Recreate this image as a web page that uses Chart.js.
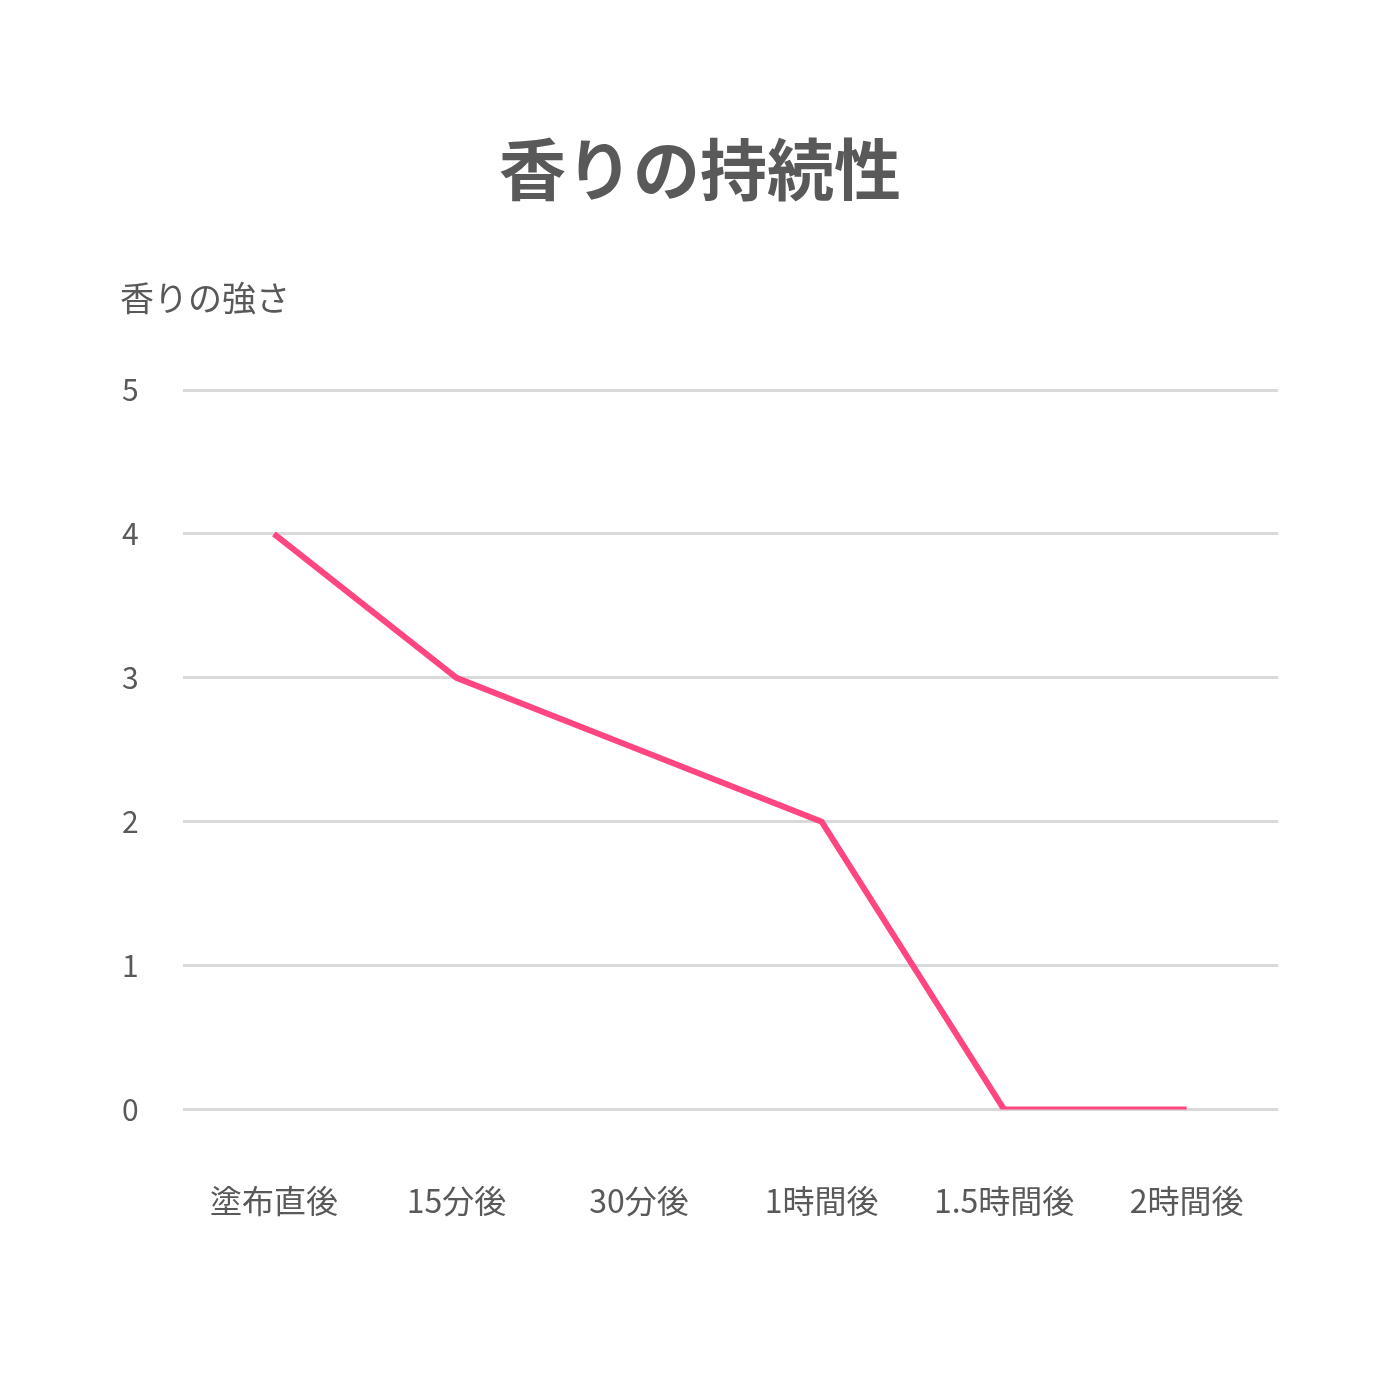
<!DOCTYPE html>
<html>
<head>
<meta charset="utf-8">
<script src="https://cdn.jsdelivr.net/npm/chart.js@4"></script>
<style>
  html, body { margin: 0; padding: 0; background: #fff; }
  #wrap { width: 1400px; height: 1400px; }
</style>
</head>
<body>
<div id="wrap"><canvas id="scentChart"></canvas></div>
<script>
const categories = ['塗布直後', '15分後', '30分後', '1時間後', '1.5時間後', '2時間後'];
const intensity = [4, 3, 2.5, 2, 0, 0];
const yTicks = [0, 1, 2, 3, 4, 5];

const chartTitle = '香りの持続性';
const yAxisTitle = '香りの強さ';
const fontFamily = '"Noto Sans CJK JP", "Noto Sans", sans-serif';
const textColor = '#595959';

// title centred on the page, y-axis title horizontal above the axis
const textPlugin = {
    id: 'headings',
    afterDraw(chart) {
        const ctx = chart.ctx;
        ctx.save();
        ctx.fillStyle = textColor;
        ctx.textBaseline = 'middle';
        ctx.textAlign = 'center';
        ctx.font = 'bold 67px ' + fontFamily;
        ctx.fillText(chartTitle, chart.width / 2, 170);
        ctx.textAlign = 'left';
        ctx.font = '34px ' + fontFamily;
        ctx.fillText(yAxisTitle, 120, 298);
        ctx.restore();
    }
};

const ctx = document.getElementById('scentChart').getContext('2d');
new Chart(ctx, {
    type: 'line',
    data: {
        labels: categories,
        datasets: [{
            data: intensity,
            borderColor: '#FF4680',
            borderWidth: 6,
            pointRadius: 0,
            tension: 0,
            fill: false
        }]
    },
    options: {
        responsive: true,
        maintainAspectRatio: false,
        animation: false,
        layout: {
            padding: { top: 390, left: 78, right: 122, bottom: 108 }
        },
        plugins: {
            legend: { display: false },
            tooltip: { enabled: false },
            title: { display: false }
        },
        scales: {
            x: {
                offset: true,
                grid: { display: false, drawTicks: false },
                border: { display: false },
                afterFit(axis) {
                    axis.paddingLeft = 0;
                    axis.paddingRight = 0;
                },
                ticks: {
                    color: textColor,
                    font: { family: fontFamily, size: 32, lineHeight: 1.2 },
                    padding: 72,
                    maxRotation: 0
                }
            },
            y: {
                min: 0,
                max: 5,
                afterBuildTicks(axis) {
                    axis.ticks = yTicks.map(v => ({ value: v }));
                },
                grid: { color: '#d9d9d9', lineWidth: 3, drawTicks: false },
                border: { display: false },
                ticks: {
                    color: textColor,
                    font: { family: fontFamily, size: 30 },
                    padding: 44
                }
            }
        }
    },
    plugins: [textPlugin]
});
</script>
</body>
</html>
